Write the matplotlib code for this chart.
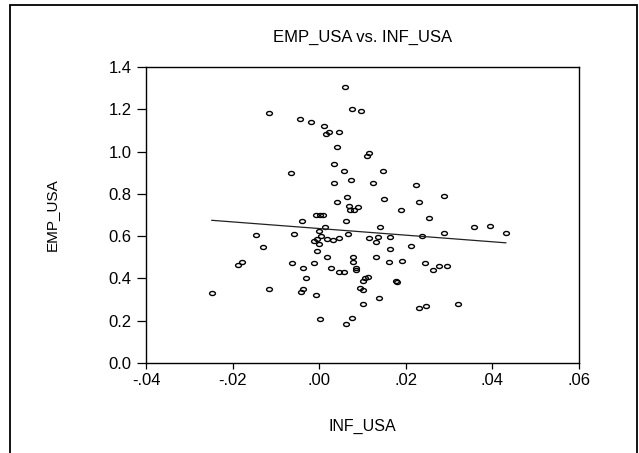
import numpy as np
import matplotlib
matplotlib.use("Agg")
import matplotlib.pyplot as plt
from matplotlib.path import Path
from matplotlib.transforms import Affine2D
from matplotlib.patches import Rectangle

# values
inf_usa = [-0.0115, -0.0044, -0.0019, 0.0012, 0.0023, 0.0016, 0.0046, 0.0040, 0.0034, -0.0065,
           0.0034, 0.0040, 0.0060, 0.0076, 0.0097, 0.0116, 0.0111, 0.0057, 0.0148, 0.0074,
           0.0124, 0.0224, 0.0289, 0.0064, 0.0150, 0.0230, 0.0069, 0.0090, 0.0190, 0.0071,
           0.0081,
           -0.0007, 0.0002, 0.0008, -0.0039, 0.0013, -0.0147, -0.0058, -0.0001, 0.0005, -0.0006,
           -0.0012, 0.0017, 0.0031, 0.0046, -0.0001, -0.0129, -0.0005, -0.0178, -0.0188, -0.0063,
           -0.0012, 0.0019, -0.0037, 0.0028, 0.0045, -0.0031, -0.0248, -0.0117, -0.0037, -0.0043,
           -0.0007, 0.0003,
           0.0254, 0.0062, 0.0140, 0.0358, 0.0394, 0.0431, 0.0289, 0.0067, 0.0116, 0.0136,
           0.0132, 0.0164, 0.0238, 0.0212, 0.0164, 0.0079, 0.0079, 0.0132, 0.0162, 0.0192,
           0.0245, 0.0262, 0.0277, 0.0296, 0.0084, 0.0085, 0.0057, 0.0112, 0.0106, 0.0102,
           0.0177, 0.0180, 0.0095, 0.0102, 0.0138, 0.0102, 0.0231, 0.0246, 0.0321, 0.0076,
           0.0062]
emp_usa = [1.181, 1.153, 1.140, 1.121, 1.094, 1.082, 1.094, 1.023, 0.940, 0.899,
           0.853, 0.760, 1.307, 1.202, 1.191, 0.992, 0.981, 0.910, 0.907, 0.867,
           0.853, 0.841, 0.791, 0.784, 0.774, 0.763, 0.744, 0.739, 0.724, 0.724,
           0.724,
           0.699, 0.702, 0.702, 0.673, 0.643, 0.604, 0.612, 0.626, 0.601, 0.585,
           0.579, 0.588, 0.582, 0.591, 0.563, 0.549, 0.530, 0.479, 0.464, 0.474,
           0.472, 0.501, 0.451, 0.451, 0.429, 0.401, 0.331, 0.351, 0.351, 0.334,
           0.320, 0.207,
           0.687, 0.670, 0.645, 0.643, 0.648, 0.616, 0.614, 0.610, 0.591, 0.595,
           0.571, 0.597, 0.601, 0.552, 0.541, 0.500, 0.479, 0.500, 0.479, 0.483,
           0.474, 0.441, 0.459, 0.457, 0.449, 0.440, 0.429, 0.408, 0.402, 0.388,
           0.388, 0.382, 0.356, 0.347, 0.309, 0.277, 0.262, 0.271, 0.277, 0.211,
           0.186]

x_ticks = [-0.04, -0.02, 0.00, 0.02, 0.04, 0.06]
x_labels = ["-.04", "-.02", ".00", ".02", ".04", ".06"]
y_ticks = [0.0, 0.2, 0.4, 0.6, 0.8, 1.0, 1.2, 1.4]
y_labels = ["0.0", "0.2", "0.4", "0.6", "0.8", "1.0", "1.2", "1.4"]

plt.rcParams['font.family'] = ['Liberation Sans', 'DejaVu Sans']

fig = plt.figure(figsize=(6.39, 4.53), dpi=100)
ax = fig.add_axes([146 / 639, 1 - 363 / 453, 433 / 639, 296 / 453])

# the original graph is stretched sideways, so the circles are a bit wide
oval = Path.unit_circle().transformed(Affine2D().scale(1.45, 1.0))
ax.plot(inf_usa, emp_usa, linestyle='none', marker=oval, markersize=4.2,
        markerfacecolor='none', markeredgecolor='black', markeredgewidth=1.0)

# least squares line
slope, icpt = np.polyfit(inf_usa, emp_usa, 1)
xs = np.array([min(inf_usa), max(inf_usa)])
ax.plot(xs, icpt + slope * xs, color='#222222', linewidth=0.9)

ax.set_xlim(-0.04, 0.06)
ax.set_ylim(0.0, 1.4)
ax.set_xticks(x_ticks)
ax.set_xticklabels(x_labels)
ax.set_yticks(y_ticks)
ax.set_yticklabels(y_labels)
ax.tick_params(axis='x', direction='out', length=4.5, width=0.9, labelsize=12, pad=3,
               top=False)
ax.tick_params(axis='y', direction='out', length=6.5, width=0.9, labelsize=12, pad=4,
               right=False)
for sp in ax.spines.values():
    sp.set_linewidth(1.0)

ax.set_title("EMP_USA vs. INF_USA", fontsize=12, pad=18)
ax.set_xlabel("INF_USA", fontsize=11.5, labelpad=22)
ax.set_ylabel("EMP_USA", fontsize=11, labelpad=36)

# outer frame round the whole graph
fig.patches.append(Rectangle((10 / 639, -0.02), 627 / 639, 1.02 - 5 / 453,
                             transform=fig.transFigure, fill=False,
                             edgecolor='black', linewidth=1.3))

fig.savefig("out.png", dpi=100)
